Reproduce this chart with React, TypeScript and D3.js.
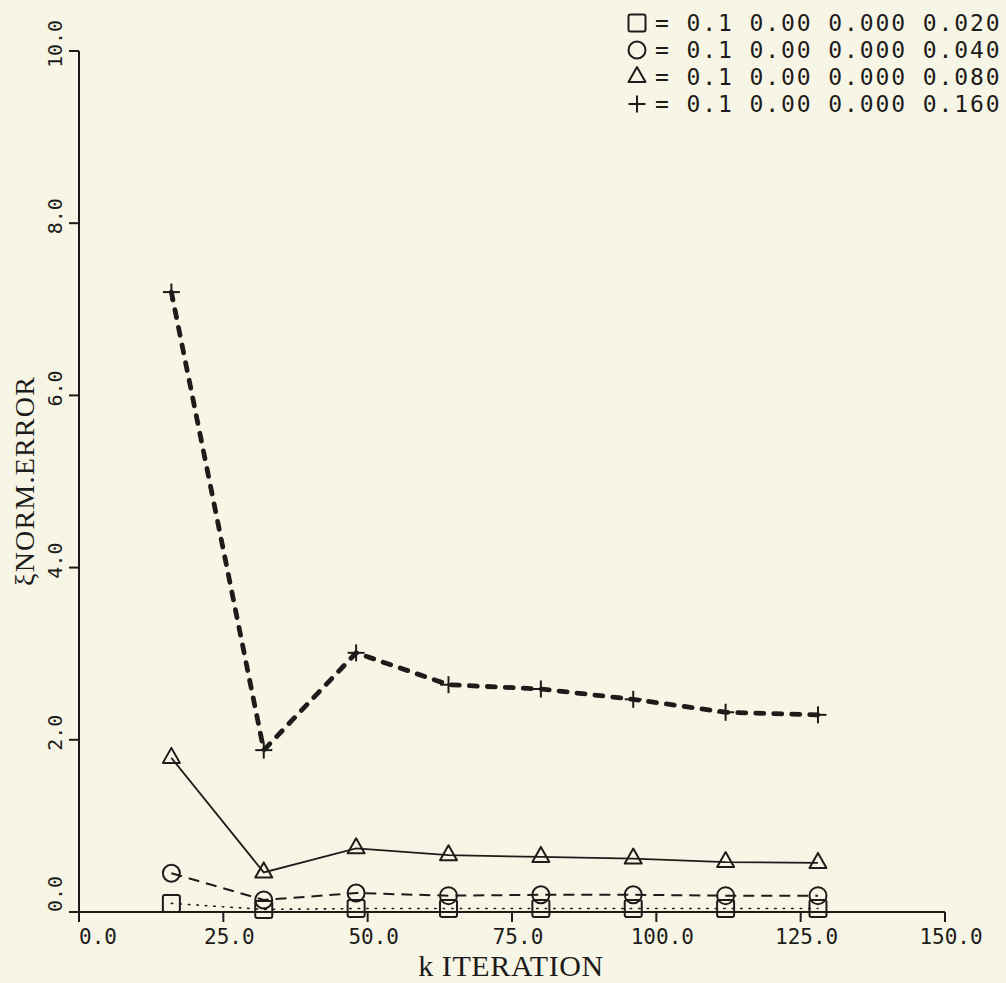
import React, { useEffect } from "react";
import * as d3 from "d3";

const kValues = [16, 32, 48, 64, 80, 96, 112, 128];
const squareSeries = [0.1, 0.03, 0.04, 0.04, 0.04, 0.04, 0.04, 0.04];
const circleSeries = [0.45, 0.14, 0.22, 0.19, 0.2, 0.2, 0.19, 0.19];
const triangleSeries = [1.79, 0.46, 0.74, 0.66, 0.64, 0.62, 0.58, 0.57];
const plusSeries = [7.2, 1.88, 3.01, 2.64, 2.59, 2.47, 2.32, 2.29];

const xTicks = [0, 25, 50, 75, 100, 125, 150];
const yTicks = [0, 2, 4, 6, 8, 10];
const legendLabels = [
  "= 0.1 0.00 0.000 0.020",
  "= 0.1 0.00 0.000 0.040",
  "= 0.1 0.00 0.000 0.080",
  "= 0.1 0.00 0.000 0.160",
];

const W = 1006;
const H = 983;
const INK = "#1e1c1a";
const BG = "#f7f6e6";
const MONO = "'DejaVu Sans Mono', monospace";
const SERIF = "'Liberation Serif', 'Times New Roman', serif";

type Shape = "square" | "circle" | "triangle" | "plus";

function Marker({ shape, x, y }: { shape: Shape; x: number; y: number }) {
  const s = 8.5;
  if (shape === "square")
    return <rect x={x - s} y={y - s} width={2 * s} height={2 * s} rx={2} fill="none" stroke={INK} strokeWidth={2} />;
  if (shape === "circle") return <circle cx={x} cy={y} r={s} fill="none" stroke={INK} strokeWidth={2} />;
  if (shape === "triangle") {
    const h = 15;
    const p = `M${x},${y - (2 * h) / 3} L${x + s},${y + h / 3} L${x - s},${y + h / 3} Z`;
    return <path d={p} fill="none" stroke={INK} strokeWidth={2} strokeLinejoin="round" />;
  }
  return (
    <g stroke={INK} strokeWidth={2}>
      <line x1={x - s} x2={x + s} y1={y} y2={y} />
      <line x1={x} x2={x} y1={y - s} y2={y + s} />
    </g>
  );
}

export default function App() {
  useEffect(() => {
    document.body.style.margin = "0";
    document.body.style.background = BG;
  }, []);

  const x = d3.scaleLinear().domain([0, 150]).range([79, 945]);
  const y = d3.scaleLinear().domain([0, 10]).range([912, 51]);

  const series: { shape: Shape; values: number[]; dash: string; width: number; cap: "round" | "butt" }[] = [
    { shape: "square", values: squareSeries, dash: "1.5 7", width: 1.6, cap: "round" },
    { shape: "circle", values: circleSeries, dash: "11 7", width: 2, cap: "butt" },
    { shape: "triangle", values: triangleSeries, dash: "none", width: 1.8, cap: "butt" },
    { shape: "plus", values: plusSeries, dash: "8 10", width: 4.8, cap: "round" },
  ];

  const line = d3
    .line<number>()
    .x((_, i) => x(kValues[i]))
    .y((d) => y(d));

  return (
    <svg width={W} height={H} style={{ position: "absolute", left: 0, top: 0, display: "block" }}>
      <rect x={0} y={0} width={W} height={H} fill={BG} />

      {/* axes */}
      <g stroke={INK} strokeWidth={2} fill="none">
        <line x1={x(0)} x2={x(0)} y1={y(0)} y2={y(10)} />
        <line x1={x(0)} x2={x(150)} y1={y(0)} y2={y(0)} />
        {yTicks.map((t) => (
          <line key={"yt" + t} x1={x(0) - 10} x2={x(0)} y1={y(t)} y2={y(t)} />
        ))}
        {xTicks.map((t) => (
          <line key={"xt" + t} x1={x(t)} x2={x(t)} y1={y(0)} y2={y(0) + 10} />
        ))}
      </g>

      {/* y tick labels */}
      {yTicks.map((t) => {
        const cy = y(t) - (t === 0 ? 18 : 7);
        return (
          <text
            key={"yl" + t}
            transform={`translate(62,${cy}) rotate(-90)`}
            textAnchor="middle"
            fontFamily={MONO}
            fontSize={20}
            fill={INK}
          >
            {t.toFixed(1)}
          </text>
        );
      })}

      {/* x tick labels */}
      {xTicks.map((t) => (
        <text
          key={"xl" + t}
          x={t === 0 ? x(0) : x(t) + 6}
          y={944}
          textAnchor={t === 0 ? "start" : "middle"}
          fontFamily={MONO}
          fontSize={21}
          fill={INK}
        >
          {t.toFixed(1)}
        </text>
      ))}

      {/* axis titles */}
      <text x={511} y={976} textAnchor="middle" fontFamily={SERIF} fontSize={30} letterSpacing={0.6} fill={INK}>
        k ITERATION
      </text>
      <text
        transform="translate(34,481) rotate(-90)"
        textAnchor="middle"
        fontFamily={SERIF}
        fontSize={28}
        letterSpacing={1.2}
        fill={INK}
      >
        ξNORM.ERROR
      </text>

      {/* series lines */}
      {series.map((s) => (
        <path
          key={"l" + s.shape}
          d={line(s.values) || ""}
          fill="none"
          stroke={INK}
          strokeWidth={s.width}
          strokeDasharray={s.dash}
          strokeLinecap={s.cap}
        />
      ))}

      {/* markers */}
      {series.map((s) =>
        s.values.map((v, i) => <Marker key={s.shape + i} shape={s.shape} x={x(kValues[i])} y={y(v)} />)
      )}

      {/* legend */}
      {legendLabels.map((lab, i) => {
        const by = 31 + i * 27;
        return (
          <g key={"lg" + i}>
            <Marker shape={series[i].shape} x={637} y={by - 8} />
            <text x={655} y={by} fontFamily={MONO} fontSize={23} letterSpacing={1.9} fill={INK}>
              {lab}
            </text>
          </g>
        );
      })}
    </svg>
  );
}
